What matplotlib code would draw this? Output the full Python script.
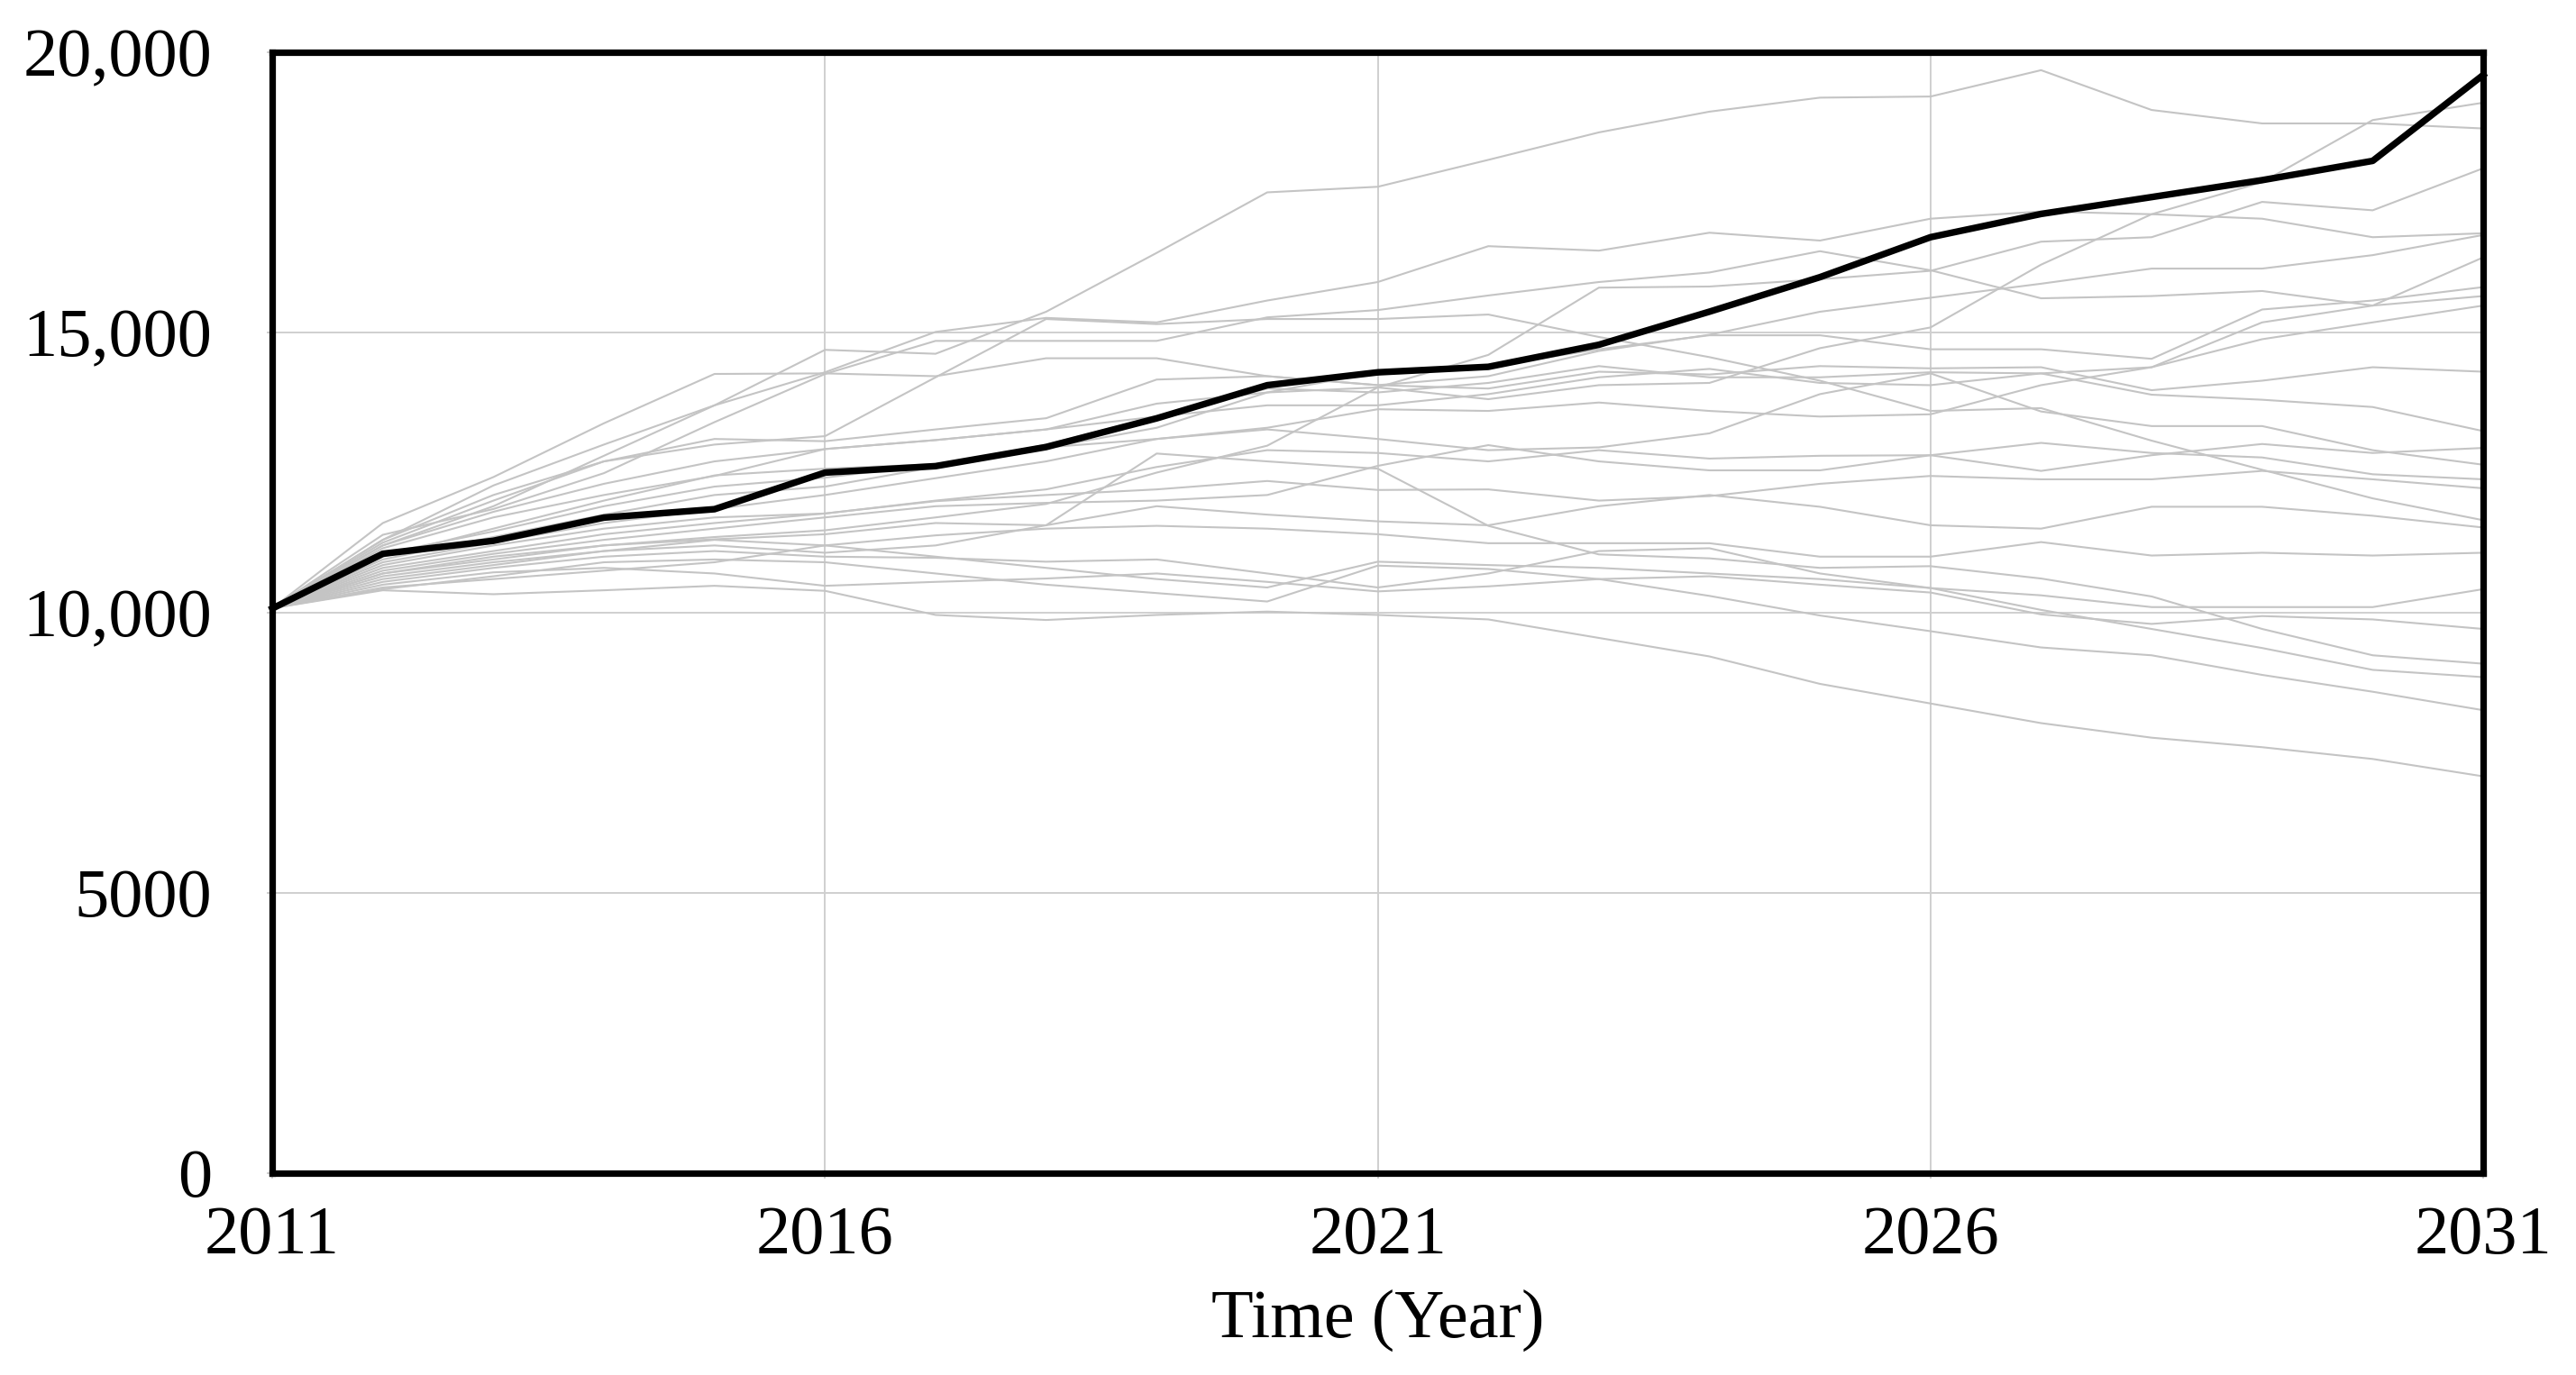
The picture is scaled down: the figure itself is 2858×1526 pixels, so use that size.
"""
    Sensitivity runs (gray) against the base run (black), 2011-2031
"""
import matplotlib
matplotlib.use('Agg')
import matplotlib.pyplot as plt

plt.rcParams['font.family'] = ['Liberation Serif', 'DejaVu Serif']

# time axis
years = list(range(2011, 2032))
x_ticks = [2011, 2016, 2021, 2026, 2031]
x_tick_labels = ['2011', '2016', '2021', '2026', '2031']
y_ticks = [0, 5000, 10000, 15000, 20000]
y_tick_labels = ['0', '5000', '10,000', '15,000', '20,000']

# base run
base_run = [10075, 11052, 11283, 11697, 11847, 12500, 12615, 12956, 13468, 14059, 14289,
            14387, 14781, 15371, 15987, 16700, 17115, 17416, 17718, 18062, 19595]

# sensitivity runs
run_01 = [10080, 11200, 11900, 12800, 13700, 14690, 14620, 15370, 16420, 17500, 17600,
          18080, 18570, 18940, 19190, 19210, 19680, 18970, 18730, 18730, 18640]
run_02 = [10080, 11600, 12420, 13380, 14260, 14270, 14220, 14540, 14540, 14220, 14060,
          14220, 14670, 14960, 15370, 15620, 15870, 16140, 16140, 16380, 16740]
run_03 = [10080, 11390, 11850, 12490, 13400, 14260, 14850, 14850, 14850, 15270, 15400,
          15660, 15900, 16070, 16450, 16110, 15610, 15650, 15740, 15480, 16340]
run_04 = [10080, 11300, 12270, 13000, 13700, 14290, 15010, 15260, 15180, 15570, 15900,
          16540, 16460, 16780, 16640, 17030, 17160, 17110, 17030, 16700, 16770]
run_05 = [10080, 10700, 11000, 11200, 11350, 11470, 11700, 11940, 12500, 12980, 14020,
          14600, 15800, 15820, 15950, 16100, 16620, 16700, 17330, 17180, 17930]
run_06 = [10080, 11150, 11700, 12100, 12440, 12920, 13080, 13270, 13730, 13930, 14020,
          13810, 14060, 14100, 14720, 15090, 16210, 17110, 17680, 18790, 19100]
run_07 = [10080, 11250, 12000, 12700, 13000, 13150, 14200, 15240, 15150, 15240, 15240,
          15320, 14920, 14560, 14140, 13600, 13650, 13070, 12550, 12040, 11650]
run_08 = [10080, 11050, 11450, 11900, 12250, 12410, 12650, 12940, 13300, 13930, 14290,
          14390, 14700, 14950, 14950, 14700, 14700, 14530, 15410, 15570, 15810]
run_09 = [10080, 10950, 11350, 11750, 12100, 12250, 12600, 13000, 13500, 13700, 13700,
          13900, 14200, 14350, 14100, 14060, 14270, 14380, 15180, 15480, 15650]
run_10 = [10080, 10900, 11250, 11600, 11850, 12100, 12400, 12700, 13100, 13300, 13630,
          13600, 13750, 13600, 13500, 13540, 14060, 14380, 14880, 15180, 15480]
run_11 = [10080, 11300, 12100, 12700, 13100, 13060, 13270, 13470, 14160, 14220, 14060,
          14000, 14300, 14250, 14400, 14360, 14380, 13970, 14140, 14380, 14300]
run_12 = [10080, 11200, 11800, 12300, 12700, 12920, 13080, 13270, 13500, 14000, 13930,
          14100, 14400, 14200, 14200, 14290, 14270, 13890, 13800, 13670, 13240]
run_13 = [10080, 11000, 11500, 12000, 12450, 12570, 12650, 12950, 13100, 13270, 13100,
          12900, 12950, 13200, 13900, 14270, 13590, 13330, 13330, 12900, 12640]
run_14 = [10080, 10850, 11200, 11500, 11700, 11770, 12000, 12200, 12600, 12900, 12850,
          12700, 12900, 12750, 12800, 12810, 12530, 12810, 13010, 12850, 12940]
run_15 = [10080, 10800, 11100, 11400, 11600, 11770, 11990, 12100, 12200, 12350, 12190,
          12200, 12000, 12080, 12300, 12440, 12380, 12380, 12530, 12380, 12220]
run_16 = [10080, 10750, 11050, 11300, 11500, 11700, 11900, 11960, 12000, 12100, 12620,
          12990, 12700, 12540, 12540, 12810, 13030, 12850, 12770, 12470, 12380]
run_17 = [10080, 10700, 10950, 11200, 11310, 11400, 11600, 11560, 11900, 11750, 11630,
          11560, 11900, 12100, 11890, 11560, 11500, 11890, 11890, 11730, 11520]
run_18 = [10080, 10650, 10900, 11100, 11300, 11200, 11380, 11500, 11550, 11500, 11400,
          11240, 11240, 11240, 11000, 11000, 11260, 11020, 11070, 11020, 11070]
run_19 = [10080, 10600, 10850, 11100, 11200, 11070, 11200, 11560, 12840, 12700, 12570,
          11550, 11040, 10970, 10800, 10830, 10610, 10290, 9710, 9240, 9090]
run_20 = [10080, 10550, 10800, 11000, 11100, 11000, 10980, 10910, 10950, 10700, 10450,
          10700, 11100, 11150, 10700, 10440, 10310, 10100, 10100, 10100, 10420]
run_21 = [10080, 10500, 10720, 10800, 10700, 10480, 10550, 10610, 10700, 10550, 10380,
          10470, 10600, 10650, 10500, 10360, 9970, 9800, 9940, 9880, 9710]
run_22 = [10080, 10450, 10600, 10750, 10900, 11200, 11000, 10800, 10600, 10450, 10910,
          10850, 10800, 10700, 10600, 10440, 10050, 9710, 9370, 8980, 8850]
run_23 = [10080, 10420, 10650, 10900, 10950, 10900, 10700, 10500, 10350, 10200, 10840,
          10780, 10600, 10300, 9950, 9670, 9380, 9240, 8890, 8590, 8260]
run_24 = [10080, 10400, 10330, 10400, 10480, 10390, 9960, 9870, 9960, 10020, 9960,
          9880, 9550, 9220, 8730, 8380, 8030, 7770, 7600, 7390, 7080]

runs = [run_01, run_02, run_03, run_04, run_05, run_06, run_07, run_08, run_09, run_10,
        run_11, run_12, run_13, run_14, run_15, run_16, run_17, run_18, run_19, run_20,
        run_21, run_22, run_23, run_24]

fig = plt.figure(figsize=(28.58, 15.26), dpi=100)
ax = fig.add_axes([0.1057, 0.1468, 0.8583, 0.8152])

# gray sensitivity runs
for r in runs:
    ax.plot(years, r, color='#c4c4c4', linewidth=1.5, zorder=2)

# base run on top
ax.plot(years, base_run, color='black', linewidth=5.3, zorder=3, clip_on=False)

ax.set_xlim(2011, 2031)
ax.set_ylim(0, 20000)
ax.set_xticks(x_ticks)
ax.set_xticklabels(x_tick_labels)
ax.set_yticks(y_ticks)
ax.set_yticklabels(y_tick_labels)

ax.grid(True, color='#cfcfcf', linewidth=1.4, zorder=1)
ax.set_axisbelow(True)

for s in ax.spines.values():
    s.set_linewidth(5.2)
    s.set_color('black')
    s.set_zorder(4)

ax.tick_params(axis='both', labelsize=55, colors='#cfcfcf', labelcolor='black',
               length=4, width=1.4, direction='out')
ax.tick_params(axis='x', pad=22)
ax.tick_params(axis='y', pad=44)

ax.set_xlabel('Time (Year)', fontsize=55, labelpad=17)

fig.savefig('out.png', dpi=100)
